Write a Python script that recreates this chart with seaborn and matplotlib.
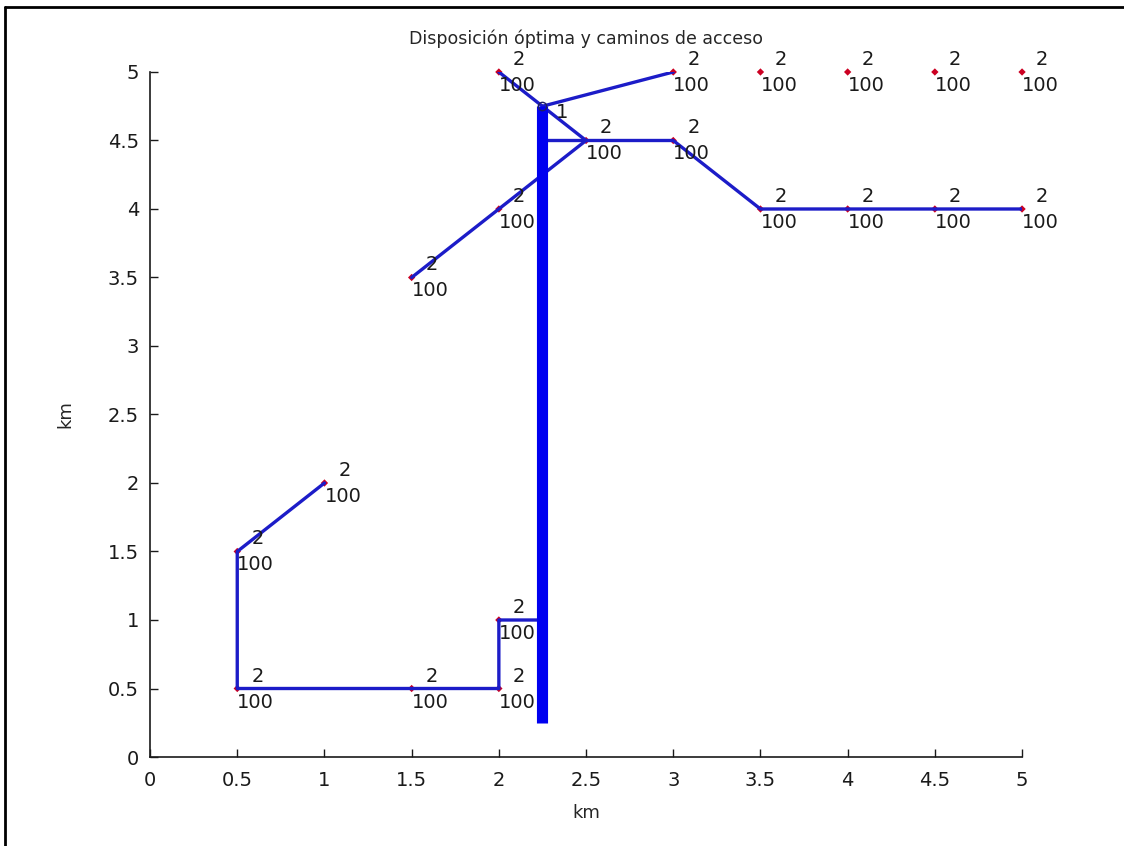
import numpy as np
import pandas as pd
import matplotlib
matplotlib.use("Agg")
import matplotlib.pyplot as plt
import seaborn as sns
from matplotlib.lines import Line2D
from matplotlib.ticker import FormatStrFormatter

# Turbine positions (km) and their labels
turb_x = [0.5, 1.5, 2.0, 2.0, 0.5, 1.0, 1.5, 2.0, 2.0, 2.5,
          3.0, 3.0, 3.5, 4.0, 4.5, 5.0, 3.5, 4.0, 4.5, 5.0]
turb_y = [0.5, 0.5, 0.5, 1.0, 1.5, 2.0, 3.5, 4.0, 5.0, 4.5,
          4.5, 5.0, 5.0, 5.0, 5.0, 5.0, 4.0, 4.0, 4.0, 4.0]
turb_top = ["2"] * 20
turb_bottom = ["100"] * 20

# Substation
sub_x, sub_y, sub_label = 2.25, 4.75, "1"

# Access roads (polylines)
road_paths = {
    "norte": [(1.5, 3.5), (2.0, 4.0), (2.5, 4.5), (3.0, 4.5), (3.5, 4.0),
              (4.0, 4.0), (4.5, 4.0), (5.0, 4.0)],
    "diag": [(2.0, 5.0), (2.25, 4.75), (2.5, 4.5)],
    "sub_e": [(2.25, 4.75), (3.0, 5.0)],
    "ramal": [(2.25, 4.5), (2.5, 4.5)],
    "sur": [(1.0, 2.0), (0.5, 1.5), (0.5, 0.5), (1.5, 0.5), (2.0, 0.5),
            (2.0, 1.0), (2.25, 1.0)],
}
trunk_x = [2.25, 2.25]
trunk_y = [0.25, 4.75]

rows = []
for name, pts in road_paths.items():
    for px, py in pts:
        rows.append({"path": name, "x": px, "y": py})
roads = pd.DataFrame(rows)
turbines = pd.DataFrame({"x": turb_x, "y": turb_y})
trunk = pd.DataFrame({"x": trunk_x, "y": trunk_y, "path": "troncal"})

sns.set_style("ticks")
plt.rcParams["font.family"] = ["DejaVu Sans"]

fig = plt.figure(figsize=(11.24, 8.46), dpi=100)
ax = fig.add_axes([0.1335, 0.1052, 0.7758, 0.8097])

sns.scatterplot(data=turbines, x="x", y="y", marker="D", s=14,
                color="#cc0022", edgecolor="none", ax=ax, zorder=2, clip_on=False)
sns.lineplot(data=roads, x="x", y="y", units="path", estimator=None, sort=False,
             color="#1c1cc8", lw=2.4, ax=ax, zorder=3)
sns.lineplot(data=trunk, x="x", y="y", units="path", estimator=None, sort=False,
             color="#0000f0", lw=8, ax=ax, zorder=4, solid_capstyle="butt")
ax.plot(sub_x, sub_y, marker="o", ms=6, mfc="none", mec="#202060", mew=1, zorder=5)

for tx, ty, t1, t2 in zip(turb_x, turb_y, turb_top, turb_bottom):
    ax.annotate(t1, (tx, ty), xytext=(14, 3), textcoords="offset pixels",
                ha="left", va="bottom", fontsize=14, color="#1a1a1a",
                annotation_clip=False)
    ax.annotate(t2, (tx, ty), xytext=(0, -4), textcoords="offset pixels",
                ha="left", va="top", fontsize=14, color="#1a1a1a",
                annotation_clip=False)
ax.annotate(sub_label, (sub_x, sub_y), xytext=(13, -6), textcoords="offset pixels",
            ha="left", va="center", fontsize=14, color="#1a1a1a")

ax.set_xlim(0, 5)
ax.set_ylim(0, 5)
ax.set_xticks(np.arange(0, 5.01, 0.5))
ax.set_yticks(np.arange(0, 5.01, 0.5))
ax.xaxis.set_major_formatter(FormatStrFormatter("%g"))
ax.yaxis.set_major_formatter(FormatStrFormatter("%g"))
ax.tick_params(direction="in", length=6, width=1, labelsize=14, colors="#1a1a1a")
ax.tick_params(axis="x", pad=10)
ax.tick_params(axis="y", pad=8)
sns.despine(ax=ax)
for s in ["left", "bottom"]:
    ax.spines[s].set_linewidth(1.2)
    ax.spines[s].set_color("#1a1a1a")

ax.set_xlabel("km", fontsize=13, labelpad=10)
ax.set_ylabel("km", fontsize=13, labelpad=24)
ax.set_title("Disposición óptima y caminos de acceso", fontsize=12.5, pad=20)

# outer frame (only left and top visible in the capture)
fig.add_artist(Line2D([0.0045, 0.0045], [0.0, 0.9917], transform=fig.transFigure,
                      color="black", lw=2))
fig.add_artist(Line2D([0.0045, 1.0], [0.9917, 0.9917], transform=fig.transFigure,
                      color="black", lw=2))

fig.savefig("out.png", dpi=100)
